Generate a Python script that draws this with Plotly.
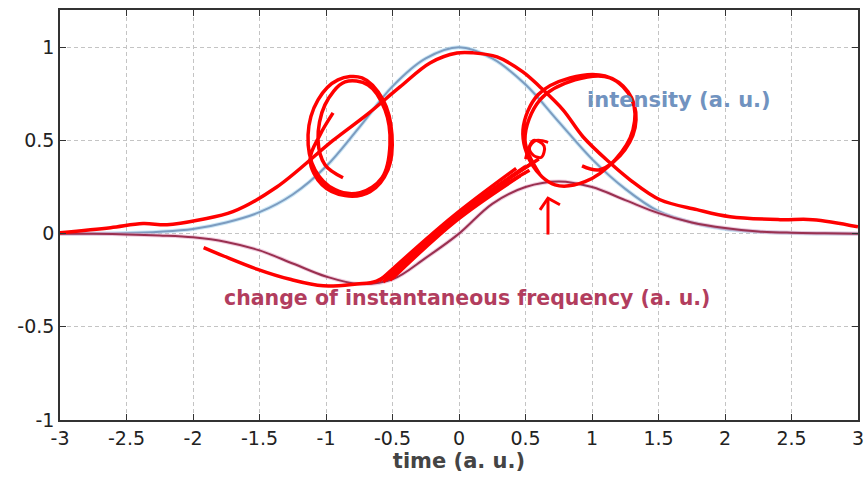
import plotly.graph_objects as go

# ---- data ----
time = [-3, -2.75, -2.5, -2.25, -2, -1.75, -1.5, -1.25, -1, -0.75, -0.5, -0.25,
        0, 0.25, 0.5, 0.75, 1, 1.25, 1.5, 1.75, 2, 2.25, 2.5, 2.75, 3]
intensity = [0.0, 0.001, 0.003, 0.010, 0.025, 0.06, 0.115, 0.21, 0.36, 0.57, 0.79, 0.94,
             1.0, 0.94, 0.80, 0.60, 0.40, 0.24, 0.12, 0.06, 0.025, 0.01, 0.003, 0.001, 0.0]
freq_change = [0.0, -0.001, -0.004, -0.01, -0.02, -0.045, -0.09, -0.16, -0.23, -0.27, -0.245, -0.13,
               0.0, 0.16, 0.25, 0.28, 0.25, 0.18, 0.11, 0.06, 0.03, 0.012, 0.005, 0.002, 0.0]

x_ticks = [-3, -2.5, -2, -1.5, -1, -0.5, 0, 0.5, 1, 1.5, 2, 2.5, 3]
x_tick_labels = ["-3", "-2.5", "-2", "-1.5", "-1", "-0.5", "0", "0.5", "1", "1.5", "2", "2.5", "3"]
y_ticks = [-1, -0.5, 0, 0.5, 1]
y_tick_labels = ["-1", "-0.5", "0", "0.5", "1"]

# hand-drawn red annotation strokes (in data units)
long_stroke_x = [-3.0, -2.62, -2.376, -2.195, -1.947, -1.70, -1.37, -0.947, -0.69, -0.444, -0.218,
                 -0.015, 0.105, 0.286, 0.48, 0.609, 0.782, 0.932, 1.135, 1.286, 1.511, 1.789,
                 2.038, 2.414, 2.66, 3.0]
long_stroke_y = [0.005, 0.032, 0.054, 0.048, 0.075, 0.118, 0.25, 0.50, 0.64, 0.787, 0.916,
                 0.969, 0.97, 0.948, 0.868, 0.787, 0.664, 0.52, 0.38, 0.289, 0.182, 0.129,
                 0.091, 0.075, 0.075, 0.037]
left_loop_x = [-0.947, -1.045, -1.120, -1.030, -0.857, -0.669, -0.534, -0.504, -0.571, -0.729,
               -0.910, -1.060, -1.135, -1.083, -0.932, -0.744, -0.579, -0.519, -0.556, -0.684,
               -0.857, -1.008, -1.060, -1.008, -0.872]
left_loop_y = [0.648, 0.530, 0.396, 0.262, 0.204, 0.225, 0.343, 0.530, 0.718, 0.836,
               0.825, 0.718, 0.530, 0.343, 0.236, 0.220, 0.300, 0.477, 0.664, 0.798,
               0.814, 0.691, 0.503, 0.370, 0.300]
right_loop_x = [0.609, 0.496, 0.609, 0.872, 1.135, 1.301, 1.308, 1.173, 0.947, 0.722, 0.549,
                0.481, 0.594, 0.835, 1.098, 1.271, 1.331, 1.248, 1.060, 0.925]
right_loop_y = [0.316, 0.503, 0.718, 0.825, 0.836, 0.718, 0.557, 0.396, 0.279, 0.262, 0.370,
                0.557, 0.745, 0.836, 0.846, 0.761, 0.611, 0.450, 0.343, 0.364]
small_loop_x = [0.50, 0.56, 0.64, 0.62, 0.56, 0.53, 0.58, 0.67]
small_loop_y = [0.40, 0.50, 0.47, 0.41, 0.42, 0.46, 0.50, 0.49]
bottom_stroke_x = [-1.92, -1.77, -1.52, -1.27, -1.02, -0.77, -0.62, -0.40, 0.0, 0.30, 0.556]
bottom_stroke_y = [-0.075, -0.12, -0.19, -0.245, -0.28, -0.27, -0.255, -0.15, 0.09, 0.26, 0.38]
bundle_x = [[-0.60, -0.05, 0.43], [-0.55, 0.0, 0.50], [-0.50, -0.02, 0.46], [-0.57, 0.05, 0.60],
            [-0.52, 0.02, 0.53]]
bundle_y = [[-0.255, 0.09, 0.35], [-0.25, 0.10, 0.36], [-0.24, 0.07, 0.31], [-0.26, 0.13, 0.40],
            [-0.25, 0.11, 0.34]]
arrow_shaft_x = [0.669, 0.669]
arrow_shaft_y = [-0.005, 0.19]
arrow_head_x = [0.609, 0.669, 0.759]
arrow_head_y = [0.128, 0.19, 0.155]

FONT = "DejaVu Sans"
SCRIBBLE = "#ff0000"

fig = go.Figure()

# data curves
fig.add_trace(go.Scatter(x=time, y=intensity, mode="lines", line_shape="spline",
                         line=dict(color="rgba(170,215,240,0.6)", width=4), hoverinfo="skip"))
fig.add_trace(go.Scatter(x=time, y=intensity, mode="lines", line_shape="spline",
                         line=dict(color="#7c9cc0", width=2)))
fig.add_trace(go.Scatter(x=time, y=freq_change, mode="lines", line_shape="spline",
                         line=dict(color="rgba(230,170,200,0.6)", width=4), hoverinfo="skip"))
fig.add_trace(go.Scatter(x=time, y=freq_change, mode="lines", line_shape="spline",
                         line=dict(color="#9a3050", width=2)))

# hand-drawn strokes
def stroke(xs, ys, shape="spline", w=3.5):
    fig.add_trace(go.Scatter(x=xs, y=ys, mode="lines", line_shape=shape,
                             line=dict(color=SCRIBBLE, width=w), hoverinfo="skip"))

stroke(long_stroke_x, long_stroke_y)
stroke(left_loop_x, left_loop_y)
stroke(right_loop_x, right_loop_y)
stroke(small_loop_x, small_loop_y, w=3)
stroke(bottom_stroke_x, bottom_stroke_y)
for bx, by in zip(bundle_x, bundle_y):
    stroke(bx, by, w=3.5)
stroke(arrow_shaft_x, arrow_shaft_y, shape="linear", w=3)
stroke(arrow_head_x, arrow_head_y, shape="linear", w=3)

fig.add_annotation(x=0.947, y=0.718, xref="x", yref="y", text="<b>intensity (a. u.)</b>",
                   showarrow=False, xanchor="left", yanchor="middle",
                   font=dict(family=FONT, size=21, color="#7193c0"))
fig.add_annotation(x=-1.782, y=-0.348, xref="x", yref="y",
                   text="<b>change of instantaneous frequency (a. u.)</b>",
                   showarrow=False, xanchor="left", yanchor="middle",
                   font=dict(family=FONT, size=20.5, color="#b23d5e"))

axis_common = dict(showline=True, linecolor="#333333", linewidth=1.6, mirror="ticks",
                   ticks="inside", ticklen=6, tickcolor="#333333", tickwidth=1.3,
                   showgrid=True, gridcolor="#c4c4c4", griddash="4px,3px", gridwidth=1,
                   zeroline=False, automargin=False,
                   tickfont=dict(family=FONT, size=19, color="#222222"))

fig.update_xaxes(range=[-3, 3], tickvals=x_ticks, ticktext=x_tick_labels,
                 title=dict(text="<b>time (a. u.)</b>", standoff=6,
                            font=dict(family=FONT, size=21, color="#444444")),
                 **axis_common)
fig.update_yaxes(range=[-1, 1.2], tickvals=y_ticks, ticktext=y_tick_labels, **axis_common)

fig.update_layout(width=865, height=479, showlegend=False,
                  paper_bgcolor="white", plot_bgcolor="white",
                  margin=dict(l=60, r=7, t=10, b=59))

fig.write_html("out.html", config={"displayModeBar": False},
               post_script="document.body.style.margin='0';")
